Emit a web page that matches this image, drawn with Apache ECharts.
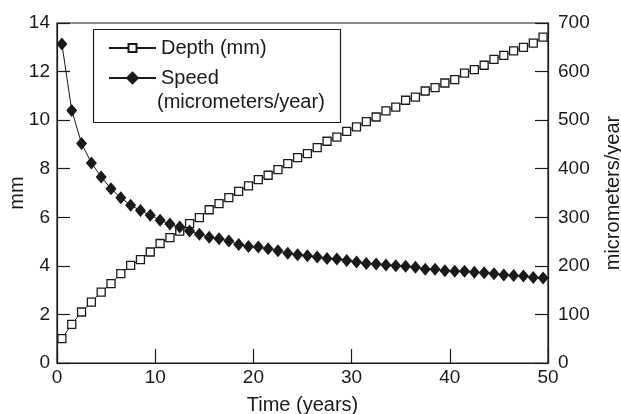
<!DOCTYPE html>
<html>
<head>
<meta charset="utf-8">
<script src="https://cdn.jsdelivr.net/npm/echarts@6/dist/echarts.min.js"></script>
<style>
html,body{margin:0;padding:0;background:#fff;}
#c{width:621px;height:414px;}
</style>
</head>
<body>
<div id="c"></div>
<script>
const years = [0.5,1.5,2.5,3.5,4.5,5.5,6.5,7.5,8.5,9.5,10.5,11.5,12.5,13.5,14.5,15.5,16.5,17.5,18.5,19.5,20.5,21.5,22.5,23.5,24.5,25.5,26.5,27.5,28.5,29.5,30.5,31.5,32.5,33.5,34.5,35.5,36.5,37.5,38.5,39.5,40.5,41.5,42.5,43.5,44.5,45.5,46.5,47.5,48.5,49.5];
const depthMm = [1.00,1.59,2.10,2.51,2.92,3.27,3.68,4.02,4.26,4.57,4.92,5.16,5.43,5.74,5.99,6.31,6.56,6.81,7.07,7.29,7.55,7.73,7.96,8.21,8.46,8.62,8.87,9.13,9.30,9.54,9.72,9.94,10.13,10.38,10.54,10.82,10.95,11.20,11.34,11.53,11.67,11.94,12.08,12.26,12.50,12.67,12.85,13.00,13.17,13.42];
const speedUmYr = [657,520,452,412,383,359,340,325,314,304,294,286,280,272,265,259,256,251,244,240,239,235,231,226,223,221,218,215,214,211,208,205,204,202,200,199,197,193,193,190,189,189,187,186,184,181,180,179,176,175];
const xTicks = {min:0, max:50, interval:10};
const leftTicks = {min:0, max:14, interval:2};
const rightTicks = {min:0, max:700, interval:100};

const ink = '#1a1a1a';
const font = 'Liberation Sans';
const chart = echarts.init(document.getElementById('c'), null, {renderer:'canvas'});
const axisCommon = {
  axisLine:{show:true, lineStyle:{color:ink, width:1.2}},
  axisTick:{show:true, inside:true, length:13, lineStyle:{color:ink, width:1.2}},
  splitLine:{show:false},
  axisLabel:{color:ink, fontFamily:font, fontSize:19},
  nameTextStyle:{color:ink, fontFamily:font, fontSize:20},
  nameMoveOverlap:false
};
const legendText = {color:ink, fontFamily:font, fontSize:20, lineHeight:22};
chart.setOption({
  animation:false,
  backgroundColor:'#fff',
  grid:{left:57, right:73, top:23, bottom:51, show:true, borderColor:ink, borderWidth:1.2, containLabel:false, outerBoundsMode:'none'},
  xAxis:Object.assign({}, axisCommon, {
    type:'value', min:xTicks.min, max:xTicks.max, interval:xTicks.interval,
    name:'Time (years)', nameLocation:'middle', nameGap:32,
    axisTick:{show:true, inside:true, length:14, lineStyle:{color:ink, width:1.2}},
    axisLabel:{color:ink, fontFamily:font, fontSize:19, margin:5}
  }),
  yAxis:[
    Object.assign({}, axisCommon, {
      type:'value', min:leftTicks.min, max:leftTicks.max, interval:leftTicks.interval,
      name:'mm', nameLocation:'middle', nameGap:30, nameRotate:90,
      axisLabel:{color:ink, fontFamily:font, fontSize:19, margin:7}
    }),
    Object.assign({}, axisCommon, {
      type:'value', position:'right', min:rightTicks.min, max:rightTicks.max, interval:rightTicks.interval,
      name:'micrometers/year', nameLocation:'middle', nameGap:55, nameRotate:90,
      axisLabel:{color:ink, fontFamily:font, fontSize:19, margin:10}
    })
  ],
  legend:[
    {left:103, top:32, itemWidth:47, itemHeight:10, textStyle:legendText, data:['Depth (mm)']},
    {left:103, top:62, itemWidth:47, itemHeight:17, textStyle:legendText, data:['Speed']}
  ],
  graphic:[
    {type:'rect', shape:{x:93.5, y:29.5, width:247, height:93}, style:{fill:'none', stroke:ink, lineWidth:1.2}, z:100},
    {type:'text', x:157, y:92, style:{text:'(micrometers/year)', fill:ink, font:'20px "Liberation Sans"'}, z:100}
  ],
  series:[
    {
      name:'Depth (mm)', type:'line', yAxisIndex:0,
      data:years.map((t,i)=>[t, depthMm[i]]),
      symbol:'rect', symbolSize:8, showAllSymbol:true,
      lineStyle:{color:ink, width:1},
      itemStyle:{color:'#fff', borderColor:ink, borderWidth:1.3},
      z:2
    },
    {
      name:'Speed', type:'line', yAxisIndex:1,
      data:years.map((t,i)=>[t, speedUmYr[i]]),
      symbol:'diamond', symbolSize:[11,13], showAllSymbol:true,
      lineStyle:{color:ink, width:1},
      itemStyle:{color:ink, borderColor:ink, borderWidth:0},
      z:3
    }
  ]
});
</script>
</body>
</html>
